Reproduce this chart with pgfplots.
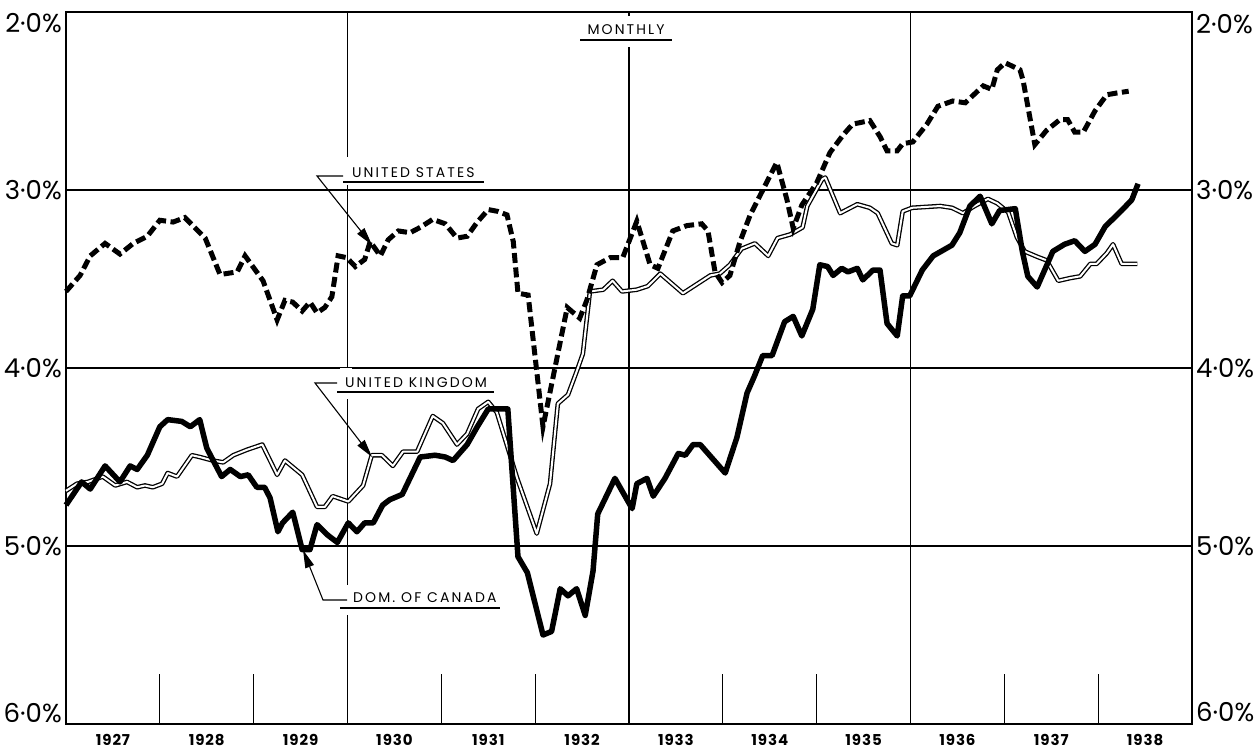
\documentclass[border=0pt]{standalone}
\usepackage{fontspec}
\setmainfont{Poppins}
\newfontfamily\annfont{Poppins}[LetterSpace=15]
\newfontfamily\yrfont{Poppins}[LetterSpace=6]
\usepackage{pgfplots}
\usepackage{pgfplotstable}
\pgfplotsset{compat=1.18}
\usetikzlibrary{arrows.meta}

\newcommand\lbl{\fontsize{26}{26}\selectfont}
\newcommand\ann{\annfont\fontsize{14}{14}\selectfont}
\newcommand\yr{\yrfont\fontsize{15}{15}\selectfont\bfseries}

\pgfplotstableread{
m v
0 3.57
1.8 3.48
3.1 3.37
5.0 3.30
6.9 3.36
8.6 3.30
10.4 3.26
12.0 3.17
13.7 3.18
15.2 3.155
17.8 3.27
19.7 3.475
21.9 3.46
22.9 3.37
25.2 3.51
27.0 3.73
28.0 3.62
29.0 3.63
30.2 3.68
31.2 3.63
32.1 3.69
33.1 3.66
34.0 3.60
34.8 3.37
35.9 3.38
37.0 3.43
38.2 3.39
38.9 3.29
40.2 3.37
41.2 3.28
42.5 3.23
44.0 3.24
45.3 3.21
46.9 3.165
48.5 3.19
50.0 3.27
51.3 3.26
52.6 3.18
54.0 3.11
55.2 3.12
56.4 3.14
57.2 3.29
57.8 3.58
59.1 3.59
61.0 4.33
64.1 3.66
65.7 3.72
66.6 3.62
67.9 3.42
69.6 3.38
71.2 3.38
73.0 3.175
74.7 3.42
75.7 3.44
77.6 3.23
79.4 3.20
81.3 3.19
82.1 3.23
83.0 3.46
83.9 3.52
84.9 3.48
86.2 3.29
87.5 3.14
89.0 3.01
90.9 2.845
92.2 3.055
93.0 3.215
94.1 3.085
96.0 2.96
97.7 2.79
99.4 2.69
100.6 2.63
102.8 2.61
104.1 2.70
105.0 2.78
106.3 2.78
107.0 2.74
108.3 2.73
110.1 2.63
111.5 2.53
113.4 2.50
115.0 2.51
116.2 2.46
117.3 2.415
118.4 2.435
119.1 2.325
120.1 2.285
122.0 2.325
122.4 2.385
123.9 2.745
125.4 2.665
127.1 2.605
128.1 2.605
129.0 2.675
130.1 2.675
131.6 2.555
133.1 2.465
134.4 2.455
135.9 2.445
}\US

\pgfplotstableread{
m v
0 4.77
2.0 4.64
3.1 4.68
5.0 4.55
6.9 4.64
8.2 4.55
9.1 4.57
10.4 4.49
12.0 4.33
13.0 4.29
14.8 4.30
15.9 4.33
17.1 4.29
18.0 4.45
19.9 4.61
21.0 4.57
22.3 4.61
23.3 4.60
24.4 4.67
25.4 4.67
26.1 4.73
27.1 4.92
27.7 4.87
29.0 4.81
30.2 5.02
31.2 5.02
32.1 4.88
33.5 4.94
34.7 4.98
36.1 4.87
37.2 4.92
38.2 4.87
39.3 4.87
40.5 4.77
41.4 4.74
43.0 4.71
45.3 4.50
47.2 4.49
48.5 4.50
49.5 4.52
51.3 4.43
52.6 4.33
54.0 4.23
56.5 4.23
57.0 4.55
57.8 5.06
59.0 5.15
61.0 5.50
62.1 5.48
63.2 5.24
64.2 5.28
65.3 5.24
66.4 5.39
67.4 5.14
68.0 4.82
70.2 4.62
72.4 4.79
73.0 4.65
74.3 4.62
75.1 4.72
76.6 4.62
78.3 4.48
79.2 4.49
80.2 4.43
81.1 4.43
84.3 4.59
85.8 4.39
87.1 4.14
88.0 4.05
89.1 3.93
90.3 3.93
91.9 3.74
93.0 3.71
94.1 3.82
95.5 3.67
96.4 3.42
97.4 3.43
98.1 3.48
99.2 3.44
100.0 3.46
101.2 3.44
101.9 3.505
103.2 3.45
104.1 3.45
105.0 3.75
106.3 3.82
107.0 3.595
107.9 3.595
109.5 3.45
110.9 3.37
113.3 3.31
114.3 3.24
115.6 3.09
116.9 3.035
118.4 3.19
119.4 3.115
121.4 3.105
122.3 3.345
123.0 3.485
124.2 3.545
126.2 3.345
127.7 3.305
129.0 3.285
130.3 3.345
131.6 3.305
132.9 3.205
135.0 3.115
136.3 3.055
137.1 2.965
}\CA

\pgfplotstableread{
m v
0 4.69
1.4 4.65
2.8 4.64
4.7 4.61
6.3 4.66
7.8 4.64
9.1 4.67
10.1 4.66
11.1 4.67
12.3 4.65
13.0 4.59
14.2 4.61
16.1 4.49
17.1 4.50
18.8 4.52
20.1 4.53
21.4 4.49
23.1 4.46
25.1 4.43
27.0 4.60
28.0 4.52
30.2 4.60
32.1 4.78
33.1 4.78
34.1 4.72
36.1 4.75
38.0 4.66
39.1 4.49
40.4 4.49
41.8 4.55
43.1 4.47
44.9 4.47
46.9 4.27
48.2 4.31
50.0 4.43
51.3 4.37
52.7 4.23
54.0 4.19
55.1 4.25
57.7 4.62
60.2 4.93
61.9 4.65
62.9 4.20
64.2 4.15
65.3 4.02
66.1 3.92
67.0 3.57
68.7 3.56
69.9 3.51
71.1 3.57
73.0 3.56
74.4 3.54
76.0 3.47
78.9 3.58
82.4 3.48
83.6 3.47
84.9 3.42
86.4 3.33
88.1 3.30
89.8 3.37
91.0 3.27
92.6 3.25
94.2 3.21
94.8 3.09
96.7 2.94
97.1 2.93
99.0 3.13
101.2 3.08
102.8 3.10
103.8 3.13
105.6 3.30
106.3 3.31
107.0 3.12
108.2 3.10
111.8 3.09
113.3 3.10
114.7 3.13
116.2 3.09
117.9 3.05
119.1 3.075
120.5 3.125
121.6 3.265
122.6 3.345
124.2 3.375
125.4 3.395
126.9 3.51
128.4 3.495
129.7 3.485
131.0 3.415
131.8 3.415
133.1 3.355
133.9 3.305
135.0 3.415
137.0 3.415
}\UK

\begin{document}
\begin{tikzpicture}[x=1pt,y=1pt]
\begin{axis}[
  at={(66pt,25pt)}, anchor=south west,
  scale only axis, width=1126pt, height=712pt,
  xmin=0, xmax=144, ymin=2, ymax=6, y dir=reverse,
  axis line style={line width=2pt},
  xtick={12,24,48,60,84,96,120,132}, xticklabels={},
  xtick pos=left, tick align=inside, major tick length=50pt,
  major tick style={black, line width=1.2pt},
  extra x ticks={36,72,108}, extra x tick labels={},
  extra x tick style={grid=major, major tick length=0pt},
  ytick={3,4,5}, yticklabels={}, ymajorgrids,
  grid style={black, line width=1.1pt},
  ytick style={draw=none},
  clip=false,
]
\addplot[black, mark=none, line width=1.3pt, double=white, double distance=2pt, line join=round] table[x=m,y=v] {\UK};
\addplot[black, mark=none, line width=5.5pt, line join=round] table[x=m,y=v] {\CA};
\addplot[black, mark=none, line width=5pt, dash pattern=on 10pt off 4.5pt] table[x=m,y=v] {\US};

% left labels
\node[anchor=north east, inner sep=0pt, font=\lbl] at (axis cs:0,2) [xshift=-4pt,yshift=-1pt] {2·0\%};
\node[anchor=east, inner sep=0pt, font=\lbl] at (axis cs:0,3) [xshift=-4pt] {3·0\%};
\node[anchor=east, inner sep=0pt, font=\lbl] at (axis cs:0,4) [xshift=-4pt] {4·0\%};
\node[anchor=east, inner sep=0pt, font=\lbl] at (axis cs:0,5) [xshift=-4pt] {5·0\%};
\node[anchor=south east, inner sep=0pt, font=\lbl] at (axis cs:0,6) [xshift=-4pt,yshift=1pt] {6·0\%};
% right labels
\node[anchor=north west, inner sep=0pt, font=\lbl] at (axis cs:144,2) [xshift=4pt,yshift=-2pt] {2·0\%};
\node[anchor=west, inner sep=0pt, font=\lbl] at (axis cs:144,3) [xshift=4pt] {3·0\%};
\node[anchor=west, inner sep=0pt, font=\lbl] at (axis cs:144,4) [xshift=4pt] {4·0\%};
\node[anchor=west, inner sep=0pt, font=\lbl] at (axis cs:144,5) [xshift=4pt] {5·0\%};
\node[anchor=south west, inner sep=0pt, font=\lbl] at (axis cs:144,6) [xshift=4pt,yshift=2pt] {6·0\%};
% years
\node[font=\yr, inner sep=0pt] at (axis cs:6,6) [yshift=-16pt] {1927};
\node[font=\yr, inner sep=0pt] at (axis cs:18,6) [yshift=-16pt] {1928};
\node[font=\yr, inner sep=0pt] at (axis cs:30,6) [yshift=-16pt] {1929};
\node[font=\yr, inner sep=0pt] at (axis cs:42,6) [yshift=-16pt] {1930};
\node[font=\yr, inner sep=0pt] at (axis cs:54,6) [yshift=-16pt] {1931};
\node[font=\yr, inner sep=0pt] at (axis cs:66,6) [yshift=-16pt] {1932};
\node[font=\yr, inner sep=0pt] at (axis cs:78,6) [yshift=-16pt] {1933};
\node[font=\yr, inner sep=0pt] at (axis cs:90,6) [yshift=-16pt] {1934};
\node[font=\yr, inner sep=0pt] at (axis cs:102,6) [yshift=-16pt] {1935};
\node[font=\yr, inner sep=0pt] at (axis cs:114,6) [yshift=-16pt] {1936};
\node[font=\yr, inner sep=0pt] at (axis cs:126,6) [yshift=-16pt] {1937};
\node[font=\yr, inner sep=0pt] at (axis cs:138,6) [yshift=-16pt] {1938};
\end{axis}

% gaps in grid lines behind labels
\fill[white] (619,702) rectangle (637,733);
\fill[white] (340,564) rectangle (352,592);
\fill[white] (340,350) rectangle (352,381);
\fill[white] (340,134) rectangle (352,164);

% MONTHLY
\node[anchor=base, inner sep=0pt, font=\ann] at (626,714) {MONTHLY};
\draw[line width=1.3pt] (580,709) -- (672,709);

% United States
\node[anchor=base west, inner sep=0pt, font=\ann] at (352,571) {UNITED STATES};
\draw[line width=1.3pt] (343,567) -- (484,567);
\draw[line width=1.1pt, -{Triangle[length=18pt,width=9pt]}] (343,573) -- (317,573) -- (372,504);

% United Kingdom
\node[anchor=base west, inner sep=0pt, font=\ann] at (345,361) {UNITED KINGDOM};
\draw[line width=1.3pt] (337,357) -- (494,357);
\draw[line width=1.1pt, -{Triangle[length=18pt,width=9pt]}] (337,366) -- (315,366) -- (372,292);

% Dom. of Canada
\node[anchor=base west, inner sep=0pt, font=\ann] at (353,146) {DOM.\ OF CANADA};
\draw[line width=1.3pt] (340,141) -- (500,141);
\draw[line width=1.1pt, -{Triangle[length=18pt,width=9pt]}] (347,149) -- (323,149) -- (303,199);

\pgfresetboundingbox
\path[use as bounding box] (0,0) rectangle (1259,749);
\end{tikzpicture}
\end{document}
